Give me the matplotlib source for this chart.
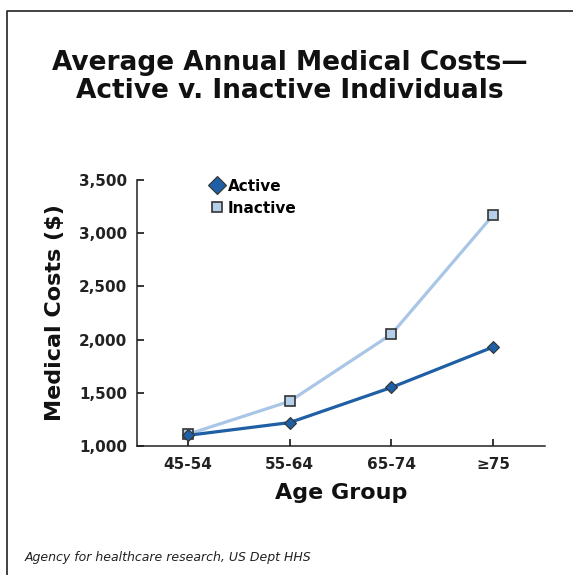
import matplotlib

matplotlib.use("Agg")
import matplotlib.pyplot as plt
from matplotlib.lines import Line2D

# data
age_groups = ["45-54", "55-64", "65-74", "\u226575"]
active = [1100, 1220, 1550, 1930]
inactive = [1110, 1420, 2050, 3170]
y_ticks = [1000, 1500, 2000, 2500, 3000, 3500]

DARK = "#1f5fa5"
LIGHT = "#a9c6e6"
EDGE = "#333333"

fig = plt.figure(figsize=(5.73, 5.75), dpi=100)
ax = fig.add_axes([137 / 573, 1 - 446 / 575, (545 - 137) / 573, (446 - 180) / 575])

x = list(range(len(age_groups)))
ax.plot(x, inactive, color=LIGHT, lw=2.3, marker="s", ms=6.5,
        mfc="#b5cfea", mec=EDGE, mew=1.2, label="Inactive", zorder=2)
ax.plot(x, active, color=DARK, lw=2.3, marker="D", ms=6.5,
        mfc=DARK, mec=EDGE, mew=0.8, label="Active", zorder=3)

ax.set_xlim(-0.50, 3.51)
ax.set_ylim(1000, 3500)
ax.set_xticks(x)
ax.set_xticklabels(age_groups)
ax.set_yticks(y_ticks)
ax.set_yticklabels([f"{v:,}" for v in y_ticks])
for s in ("top", "right"):
    ax.spines[s].set_visible(False)
for s in ("left", "bottom"):
    ax.spines[s].set_color("#222222")
    ax.spines[s].set_linewidth(1.1)
ax.tick_params(axis="x", direction="in", length=5, width=1.1, pad=8)
ax.tick_params(axis="y", direction="in", length=5, width=1.1, pad=7)
for lab in ax.get_xticklabels() + ax.get_yticklabels():
    lab.set_fontweight("bold")
    lab.set_fontsize(11)
    lab.set_color("#222222")

ax.set_xlabel("Age Group", fontsize=16, fontweight="black", labelpad=8, color="#111111")
fig.text(55 / 573, 1 - 313 / 575, "Medical Costs ($)", rotation=90, fontsize=16,
         fontweight="black", ha="center", va="center", color="#111111")

handles = [
    Line2D([], [], ls="none", marker="D", ms=9, mfc=DARK, mec=EDGE, mew=0.8),
    Line2D([], [], ls="none", marker="s", ms=7, mfc="#b5cfea", mec=EDGE, mew=1.2),
]
fig.legend(handles, ["Active", "Inactive"], loc="upper left",
           bbox_to_anchor=(200 / 573, 1 - 171 / 575), frameon=False,
           prop={"weight": "bold", "size": 11}, handletextpad=0.1,
           handlelength=1.2, labelspacing=0.45, borderpad=0)

fig.text(290 / 573, 1 - 77 / 575, "Average Annual Medical Costs\u2014\nActive v. Inactive Individuals",
         ha="center", va="center", fontsize=19, fontweight="black",
         linespacing=1.1, color="#111111")

fig.text(25 / 573, 1 - 557 / 575, "Agency for healthcare research, US Dept HHS",
         style="italic", fontsize=9, ha="left", va="center", color="#222222")

# frame round the figure (left and top edges)
fig.add_artist(Line2D([7 / 573, 7 / 573, 1], [0, 1 - 11 / 575, 1 - 11 / 575],
                      transform=fig.transFigure, color="#222222", lw=1.2))

fig.savefig("out.png", dpi=100)
